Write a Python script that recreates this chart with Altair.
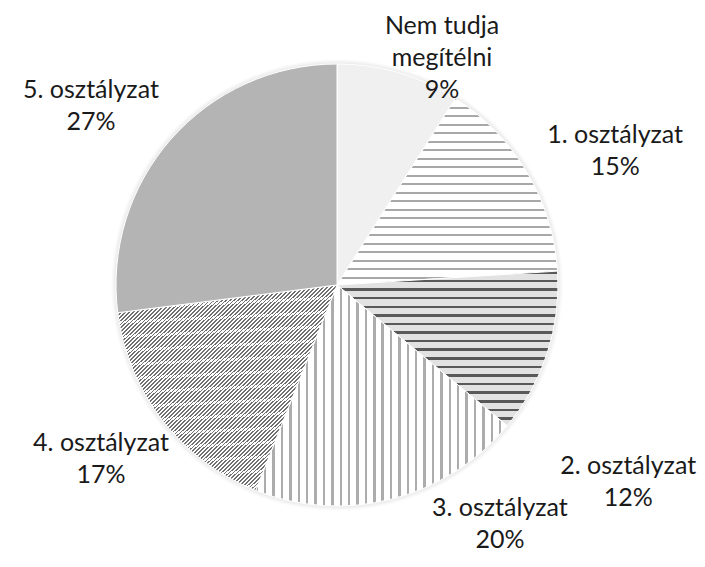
import math
import altair as alt
import pandas as pd

# ---- data ----
categories = ["Nem tudja megítélni", "1. osztályzat", "2. osztályzat",
              "3. osztályzat", "4. osztályzat", "5. osztályzat"]
values = [9, 15, 12, 20, 17, 27]

# ---- layout (first-line label anchor relative to slice middle) ----
label_shift = [1.63, 0.63, 3.86, -6.05, 1.11, -0.83]   # percent units of the circle
label_dist = [279.5, 316, 343, 276, 284, 314]          # px from centre

W, H = 658, 544
R = 221


def stripes(n, duty, color, bg, x2, y2):
    stops = []
    for k in range(n):
        a = round(k / n, 6)
        b = round((k + duty) / n, 6)
        c = round((k + 1) / n, 6)
        stops += [{"offset": a, "color": color}, {"offset": b, "color": color},
                  {"offset": b, "color": bg}, {"offset": c, "color": bg}]
    return {"gradient": "linear", "x1": 0, "y1": 0, "x2": x2, "y2": y2, "stops": stops}


fills = {
    1: stripes(22, 0.235, "#a8a8a8", "#ffffff", 0, 1),   # horizontal dashes
    2: stripes(18, 0.29, "#595959", "#e2e2e2", 0, 1),    # bricks
    3: stripes(30, 0.29, "#acacac", "#ffffff", 1, 0),    # vertical dashes
    4: stripes(110, 0.45, "#707070", "#ffffff", 1, 1),   # diagonal lines
    5: "#b4b4b4",                                          # cross hatch
}
conds = [{"test": f"datum.idx === {k}", "value": v} for k, v in fills.items()]

df = pd.DataFrame({
    "category": categories,
    "value": values,
    "idx": list(range(len(categories))),
    "shift": label_shift,
    "dist": label_dist,
})
df["label"] = [c.replace("tudja ", "tudja\n") + "\n" + f"{v}%" for c, v in zip(categories, values)]

base = alt.Chart(df).transform_window(
    cum="sum(value)", sort=[alt.SortField("idx")]
).transform_calculate(
    start="datum.cum - datum.value",
    lt="datum.cum - datum.value / 2 + datum.shift",
)

theta_scale = alt.Scale(domain=[0, 100], range=[0, 2 * math.pi])

shadow_fill = {
    "gradient": "radial", "x1": 0.5, "y1": 0.5, "r1": 0, "x2": 0.5, "y2": 0.5, "r2": 0.5,
    "stops": [{"offset": 0, "color": "#dcdcdc"}, {"offset": 0.97, "color": "#e2e2e2"},
              {"offset": 1, "color": "#ffffff"}],
}
shadow = alt.Chart(pd.DataFrame({"k": [0]})).mark_arc(
    radius=R + 5, fill=shadow_fill
).encode(theta=alt.ThetaValue(0), theta2=alt.Theta2Value(2 * math.pi))

pie = base.mark_arc(radius=R, stroke="white", strokeWidth=1).encode(
    theta=alt.Theta("start:Q", scale=theta_scale),
    theta2="cum:Q",
    fill={"condition": conds, "value": "#f0f0f0"},
)

text = base.mark_text(
    font="Lato", fontSize=25, lineBreak="\n", lineHeight=32,
    align="center", baseline="middle", color="#1a1a1a",
).encode(
    theta=alt.Theta("lt:Q", scale=theta_scale),
    radius=alt.Radius("dist:Q", scale=None),
    text="label:N",
)

chart = alt.layer(shadow, pie, text).properties(
    width=W, height=H,
    autosize=alt.AutoSizeParams(type="none"),
    padding={"left": 0, "top": 5, "right": 31, "bottom": 0},
).configure_view(stroke=None)

chart.save("out.html", embed_options={"renderer": "svg", "actions": False})
